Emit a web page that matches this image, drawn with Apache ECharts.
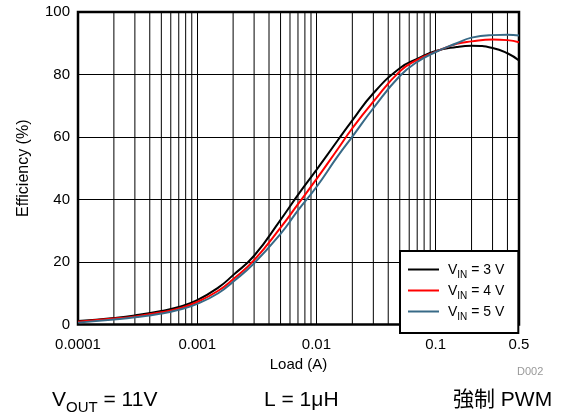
<!DOCTYPE html>
<html lang="en">

<head>
  <meta charset="UTF-8">
  <title>Efficiency vs Load</title>
  <style>
    html, body { margin: 0; padding: 0; background: #fff; }
    #chart { width: 563px; height: 415px; }
  </style>
  <script src="https://cdn.jsdelivr.net/npm/echarts@6/dist/echarts.min.js"></script>
</head>

<body>
  <div id="chart"></div>
  <script>
    // load in A
    var loads = [0.0001, 0.0002, 0.0003, 0.0005, 0.0007, 0.001, 0.0015, 0.002, 0.003, 0.005, 0.007,
      0.01, 0.015, 0.02, 0.03, 0.05, 0.07, 0.1, 0.15, 0.2, 0.3, 0.4, 0.5];
    // efficiency in %
    var vin3 = [1.1, 2.1, 2.9, 4.3, 5.6, 7.8, 11.8, 15.8, 22, 33.5, 41.5,
      49.5, 58.8, 65.3, 74, 82, 85, 87.5, 88.8, 89.2, 88.5, 86.8, 84.5];
    var vin4 = [0.9, 1.9, 2.6, 3.9, 5.1, 7.2, 10.8, 14.5, 20.6, 31, 38.5,
      46.5, 56, 62.8, 71.3, 81, 84.7, 87.3, 89.8, 90.6, 91.2, 91, 90.3];
    var vin5 = [0.6, 1.6, 2.3, 3.5, 4.7, 6.6, 10, 13.7, 19.6, 29, 36.5,
      44, 53.7, 60.1, 69.2, 79.5, 84, 87.2, 90, 91.8, 92.6, 92.7, 92.5];
    var seriesNames = ['VIN = 3 V', 'VIN = 4 V', 'VIN = 5 V'];
    var legendLabels = { 'VIN = 3 V': '3', 'VIN = 4 V': '4', 'VIN = 5 V': '5' };
    // log grid lines between decades
    var minorGrid = [];
    [0.0001, 0.001, 0.01, 0.1].forEach(function (d) {
      for (var k = 2; k <= 9; k++) {
        var v = +(d * k).toPrecision(3);
        if (v < 0.5) minorGrid.push(v);
      }
    });

    var font = '"Liberation Sans", Arial, "Noto Sans CJK JP", sans-serif';
    var chart = echarts.init(document.getElementById('chart'));

    function pairs(ys) {
      return loads.map(function (x, i) { return [x, ys[i]]; });
    }

    function curve(name, color, ys) {
      return {
        name: name,
        type: 'line',
        data: pairs(ys),
        smooth: 0.5,
        showSymbol: false,
        lineStyle: { color: color, width: 2 },
        itemStyle: { color: color },
        z: 3
      };
    }

    var option = {
      animation: false,
      textStyle: { fontFamily: font },
      grid: {
        left: 78, right: 44, top: 12, bottom: 90.5,
        show: true, borderColor: '#000', borderWidth: 2.5, backgroundColor: 'transparent'
      },
      xAxis: {
        type: 'log',
        logBase: 10,
        min: 0.0001,
        max: 0.5,
        name: 'Load (A)',
        nameLocation: 'middle',
        nameGap: 33,
        nameTextStyle: { color: '#000', fontSize: 15, fontFamily: font },
        axisLine: { show: false },
        axisTick: { show: false },
        axisLabel: {
          color: '#000', fontSize: 15, margin: 13, fontFamily: font,
          showMaxLabel: true, showMinLabel: true,
          formatter: function (v) { return String(+(+v).toPrecision(6)); }
        },
        splitLine: { show: true, lineStyle: { color: '#000', width: 1 } }
      },
      yAxis: {
        type: 'value',
        min: 0,
        max: 100,
        interval: 20,
        name: 'Efficiency (%)',
        nameLocation: 'middle',
        nameGap: 46,
        nameTextStyle: { color: '#000', fontSize: 16, fontFamily: font },
        axisLine: { show: false },
        axisTick: { show: false },
        axisLabel: { color: '#000', fontSize: 15, margin: 8, fontFamily: font },
        splitLine: { show: true, lineStyle: { color: '#000', width: 1 } }
      },
      legend: {
        data: seriesNames,
        orient: 'vertical',
        left: 400,
        top: 251,
        width: 119,
        padding: [12, 14, 11, 8],
        itemGap: 4,
        itemWidth: 31,
        itemHeight: 2,
        icon: 'rect',
        backgroundColor: '#fff',
        borderColor: '#000',
        borderWidth: 2,
        borderRadius: 0,
        formatter: function (name) {
          return '{v|V}{s|IN}{v| = ' + legendLabels[name] + ' V}';
        },
        textStyle: {
          color: '#000',
          fontFamily: font,
          padding: [0, 0, 0, 4],
          rich: {
            v: { fontSize: 14, lineHeight: 15, fontFamily: font, color: '#000', verticalAlign: 'bottom' },
            s: { fontSize: 10, lineHeight: 15, fontFamily: font, color: '#000', verticalAlign: 'bottom', padding: [0, 0, -3, 0] }
          }
        }
      },
      graphic: [
        {
          type: 'text', left: 517, top: 366, z: 10,
          style: { text: 'D002', fill: '#999', fontSize: 11, fontFamily: font }
        },
        {
          type: 'text', left: 52, top: 390, z: 10,
          style: {
            text: '{b|V}{s|OUT}{b| = 11V}',
            fill: '#000',
            fontFamily: font,
            rich: {
              b: { fontSize: 21, lineHeight: 24, fontFamily: font, verticalAlign: 'bottom' },
              s: { fontSize: 15, lineHeight: 24, fontFamily: font, verticalAlign: 'bottom', padding: [0, 0, -4, 0] }
            }
          }
        },
        {
          type: 'text', left: 264, top: 390, z: 10,
          style: { text: 'L = 1μH', fill: '#000', fontSize: 21, fontFamily: font }
        },
        {
          type: 'text', left: 453, top: 390, z: 10,
          style: { text: '強制 PWM', fill: '#000', fontSize: 21, fontFamily: font }
        }
      ],
      series: [
        curve(seriesNames[0], '#000000', vin3),
        curve(seriesNames[1], '#ff0000', vin4),
        curve(seriesNames[2], '#386a87', vin5),
        {
          name: 'grid',
          type: 'custom',
          silent: true,
          z: 1,
          data: minorGrid.map(function (v) { return [v, 0]; }),
          renderItem: function (params, api) {
            var v = api.value(0);
            var p0 = api.coord([v, 0]);
            var p1 = api.coord([v, 100]);
            return {
              type: 'line',
              shape: { x1: p0[0], y1: p0[1], x2: p1[0], y2: p1[1] },
              style: { stroke: '#000', lineWidth: 1 }
            };
          }
        }
      ]
    };

    chart.setOption(option);
  </script>
</body>

</html>
